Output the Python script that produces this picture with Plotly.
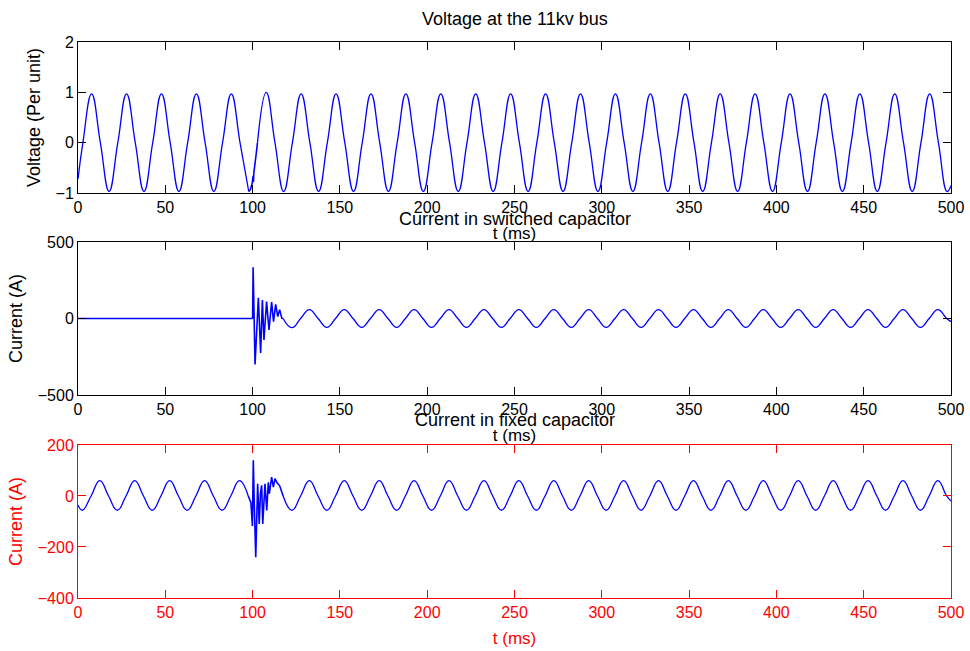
import plotly.graph_objects as go

# ---------------- data ----------------
x_ticks = [0, 50, 100, 150, 200, 250, 300, 350, 400, 450, 500]
v_ticks = [-1, 0, 1, 2]
sw_ticks = [-500, 0, 500]
fx_ticks = [-400, -200, 0, 200]

# Voltage at the 11kv bus (per unit)
volt_t_pre = [0, 2.8, 7.8, 12.8, 17.8, 22.8, 27.8, 32.8, 37.8,
              42.8, 47.8, 52.8, 57.8, 62.8, 67.8, 72.8, 77.8,
              82.8, 87.8, 92.8, 97.8]
volt_v_pre = [-0.72, 0, 0.97, 0, -0.97, 0, 0.97, 0, -0.97,
              0, 0.97, 0, -0.97, 0, 0.97, 0, -0.97,
              0, 0.97, 0, -0.97]
volt_t_tr = [97.8, 98.8, 99.8, 100.3, 100.5, 100.7, 101.8, 102.8]
volt_v_tr = [-0.97, -0.93, -0.8, -0.66, -0.78, -0.6, -0.3, 0]
volt_t_post = [102.8, 107.8, 112.8, 117.8, 122.8, 127.8, 132.8, 137.8,
               142.8, 147.8, 152.8, 157.8, 162.8, 167.8, 172.8, 177.8,
               182.8, 187.8, 192.8, 197.8, 202.8, 207.8, 212.8, 217.8,
               222.8, 227.8, 232.8, 237.8, 242.8, 247.8, 252.8, 257.8,
               262.8, 267.8, 272.8, 277.8, 282.8, 287.8, 292.8, 297.8,
               302.8, 307.8, 312.8, 317.8, 322.8, 327.8, 332.8, 337.8,
               342.8, 347.8, 352.8, 357.8, 362.8, 367.8, 372.8, 377.8,
               382.8, 387.8, 392.8, 397.8, 402.8, 407.8, 412.8, 417.8,
               422.8, 427.8, 432.8, 437.8, 442.8, 447.8, 452.8, 457.8,
               462.8, 467.8, 472.8, 477.8, 482.8, 487.8, 492.8, 497.8, 500]
volt_v_post = [0, 1.0, 0, -0.97, 0, 0.97, 0, -0.97,
               0, 0.97, 0, -0.97, 0, 0.97, 0, -0.97,
               0, 0.97, 0, -0.97, 0, 0.97, 0, -0.97,
               0, 0.97, 0, -0.97, 0, 0.97, 0, -0.97,
               0, 0.97, 0, -0.97, 0, 0.97, 0, -0.97,
               0, 0.97, 0, -0.97, 0, 0.97, 0, -0.97,
               0, 0.97, 0, -0.97, 0, 0.97, 0, -0.97,
               0, 0.97, 0, -0.97, 0, 0.97, 0, -0.97,
               0, 0.97, 0, -0.97, 0, 0.97, 0, -0.97,
               0, 0.97, 0, -0.97, 0, 0.97, 0, -0.97, -0.85]

# Current in switched capacitor (A)
sw_t_pre = [0, 100.0]
sw_v_pre = [0, 0]
sw_t_tr = [100.0, 100.3, 101.4, 103.3, 104.6, 105.6, 106.5, 108.0, 109.4,
           110.9, 112.0, 113.2, 114.4, 115.5, 116.7, 117.5]
sw_v_tr = [0, 335, -300, 136, -225, 120, -140, 110, -75,
           108, -20, 92, 12, 58, 2, 0]
sw_t_post = [117.5, 122.5, 127.5, 132.5, 137.5, 142.5, 147.5, 152.5,
             157.5, 162.5, 167.5, 172.5, 177.5, 182.5, 187.5, 192.5,
             197.5, 202.5, 207.5, 212.5, 217.5, 222.5, 227.5, 232.5,
             237.5, 242.5, 247.5, 252.5, 257.5, 262.5, 267.5, 272.5,
             277.5, 282.5, 287.5, 292.5, 297.5, 302.5, 307.5, 312.5,
             317.5, 322.5, 327.5, 332.5, 337.5, 342.5, 347.5, 352.5,
             357.5, 362.5, 367.5, 372.5, 377.5, 382.5, 387.5, 392.5,
             397.5, 402.5, 407.5, 412.5, 417.5, 422.5, 427.5, 432.5,
             437.5, 442.5, 447.5, 452.5, 457.5, 462.5, 467.5, 472.5,
             477.5, 482.5, 487.5, 492.5, 497.5, 500]
sw_v_post = [0, -60, 0, 58, 0, -58, 0, 58,
             0, -58, 0, 58, 0, -58, 0, 58,
             0, -58, 0, 58, 0, -58, 0, 58,
             0, -58, 0, 58, 0, -58, 0, 58,
             0, -58, 0, 58, 0, -58, 0, 58,
             0, -58, 0, 58, 0, -58, 0, 58,
             0, -58, 0, 58, 0, -58, 0, 58,
             0, -58, 0, 58, 0, -58, 0, 58,
             0, -58, 0, 58, 0, -58, 0, 58,
             0, -58, 0, 58, 0, -20]

# Current in fixed capacitor (A)
fx_t_pre = [0, 2.5, 7.5, 12.5, 17.5, 22.5, 27.5, 32.5, 37.5,
            42.5, 47.5, 52.5, 57.5, 62.5, 67.5, 72.5, 77.5,
            82.5, 87.5, 92.5, 97.5]
fx_v_pre = [-35, -56, 0, 60, 0, -56, 0, 60, 0,
            -56, 0, 60, 0, -56, 0, 60, 0,
            -56, 0, 60, 0]
fx_t_tr = [97.5, 99.0, 99.9, 100.4, 101.0, 101.8, 102.9, 103.8, 104.5,
           105.2, 105.8, 107.1, 108.1, 109.0, 109.6, 110.9, 111.9, 112.8,
           113.8, 115.5, 117.5]
fx_v_tr = [0, -25, -118, 140, -40, -240, 48, -110, 10,
           42, -110, 48, -57, 54, 9, 74, 35, 68,
           54, 40, 0]
fx_t_post = sw_t_post
fx_v_post = [0, -56, 0, 60, 0, -56, 0, 60,
             0, -56, 0, 60, 0, -56, 0, 60,
             0, -56, 0, 60, 0, -56, 0, 60,
             0, -56, 0, 60, 0, -56, 0, 60,
             0, -56, 0, 60, 0, -56, 0, 60,
             0, -56, 0, 60, 0, -56, 0, 60,
             0, -56, 0, 60, 0, -56, 0, 60,
             0, -56, 0, 60, 0, -56, 0, 60,
             0, -56, 0, 60, 0, -56, 0, 60,
             0, -56, 0, 60, 0, -20]

# ---------------- figure ----------------
BLUE = "#0000ff"
RED = "#ff0000"
FONT = "Liberation Sans, Arial, sans-serif"
LW = 1.3

fig = go.Figure()

def add_series(t_pre, v_pre, t_tr, v_tr, t_post, v_post, xa, ya):
    fig.add_trace(go.Scatter(
        x=t_pre + [None] + t_post, y=v_pre + [None] + v_post,
        mode="lines", line=dict(color=BLUE, width=LW, shape="spline", smoothing=1.3),
        xaxis=xa, yaxis=ya, showlegend=False, hoverinfo="skip"))
    fig.add_trace(go.Scatter(
        x=t_tr, y=v_tr, mode="lines", line=dict(color=BLUE, width=LW + 0.3),
        xaxis=xa, yaxis=ya, showlegend=False, hoverinfo="skip"))

add_series(volt_t_pre, volt_v_pre, volt_t_tr, volt_v_tr, volt_t_post, volt_v_post, "x", "y")
add_series(sw_t_pre, sw_v_pre, sw_t_tr, sw_v_tr, sw_t_post, sw_v_post, "x2", "y2")
add_series(fx_t_pre, fx_v_pre, fx_t_tr, fx_v_tr, fx_t_post, fx_v_post, "x3", "y3")

def xaxis(color, anchor):
    return dict(range=[0, 500], tickvals=x_ticks, ticks="inside", ticklen=8,
                showline=True, mirror="ticks", linecolor=color, tickcolor=color,
                linewidth=1, showgrid=False, zeroline=False, anchor=anchor,
                automargin=False,
                tickfont=dict(family=FONT, size=16, color=color),
                title=dict(text="t (ms)", font=dict(family=FONT, size=17, color=color), standoff=11))

def yaxis(rng, ticks, title, color, domain, anchor):
    return dict(range=rng, tickvals=ticks, ticks="inside", ticklen=8,
                showline=True, mirror="ticks", linecolor=color, tickcolor=color,
                linewidth=1, showgrid=False, zeroline=False, domain=domain, anchor=anchor,
                automargin=False,
                tickfont=dict(family=FONT, size=16, color=color),
                title=dict(text=title, font=dict(family=FONT, size=18, color=color), standoff=10))

fig.update_layout(
    width=970, height=651,
    margin=dict(l=78, r=19, t=42, b=53),
    paper_bgcolor="white", plot_bgcolor="white",
    xaxis=xaxis("black", "y"),
    xaxis2=xaxis("black", "y2"),
    xaxis3=xaxis(RED, "y3"),
    yaxis=yaxis([-1, 2], v_ticks, "Voltage (Per unit)", "black", [0.7284, 1.0], "x"),
    yaxis2=yaxis([-500, 500], sw_ticks, "Current (A)", "black", [0.3651, 0.6403], "x2"),
    yaxis3=yaxis([-400, 200], fx_ticks, "Current (A)", RED, [0.0, 0.2752], "x3"),
)

titles = [("Voltage at the 11kv bus", 1.0414),
          ("Current in switched capacitor", 0.6817),
          ("Current in fixed capacitor", 0.3201)]
for text, yy in titles:
    fig.add_annotation(text=text, x=0.5, y=yy, xref="paper", yref="paper",
                       showarrow=False, xanchor="center", yanchor="middle",
                       font=dict(family=FONT, size=18, color="black"))

fig.write_html("out.html", config={"displayModeBar": False},
               post_script="document.body.style.margin='0';document.body.style.overflow='hidden';")
